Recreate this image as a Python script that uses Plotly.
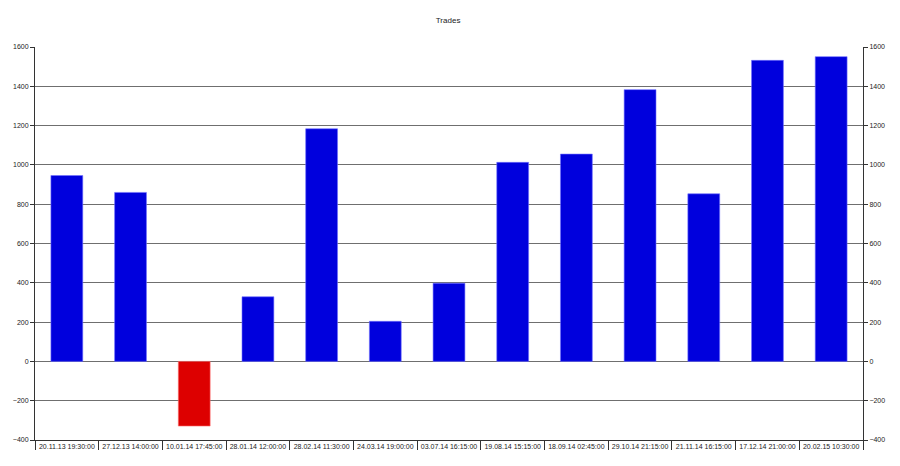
import plotly.graph_objects as go

categories = ["20.11.13 19:30:00", "27.12.13 14:00:00", "10.01.14 17:45:00", "28.01.14 12:00:00",
              "28.02.14 11:30:00", "24.03.14 19:00:00", "03.07.14 16:15:00", "19.08.14 15:15:00",
              "18.09.14 02:45:00", "29.10.14 21:15:00", "21.11.14 16:15:00", "17.12.14 21:00:00",
              "20.02.15 10:30:00"]
values = [946, 860, -329, 329, 1184, 204, 398, 1013, 1055, 1383, 853, 1532, 1551]
y_ticks = [-400, -200, 0, 200, 400, 600, 800, 1000, 1200, 1400, 1600]

colors = ["#0000dd" if v >= 0 else "#dd0000" for v in values]
edge = ["#7070ff" if v >= 0 else "#ff7070" for v in values]

fig = go.Figure()
fig.add_trace(go.Bar(x=categories, y=values, marker=dict(color=colors, line=dict(color=edge, width=0.6)),
                     showlegend=False, hoverinfo="x+y"))
fig.add_trace(go.Scatter(x=[categories[0]], y=[0], yaxis="y2", mode="markers",
                         marker=dict(opacity=0, size=1), showlegend=False, hoverinfo="skip"))

font = dict(family="Liberation Sans, Arial, sans-serif", size=7, color="#222222")
yax = dict(range=[-400, 1600], tickmode="array", tickvals=y_ticks, ticks="outside", ticklen=4,
           tickcolor="#333333", showline=True, linecolor="#333333", linewidth=1, tickfont=font,
           zeroline=False, automargin=False)
fig.update_layout(
    width=900, height=466,
    margin=dict(l=27, r=45, t=39, b=34),
    paper_bgcolor="white", plot_bgcolor="white",
    title=dict(text="Trades", x=0.489, xanchor="center", y=1 - 12 / 466, yanchor="middle",
               font=dict(family="Liberation Sans, Arial, sans-serif", size=8, color="#222222")),
    bargap=0.5,
    xaxis=dict(type="category", range=[-0.5, len(categories) - 0.5], tickson="boundaries",
               ticks="outside", ticklen=9, tickcolor="#333333",
               showline=True, linecolor="#333333", linewidth=1, tickfont=font, showgrid=False,
               tickangle=0, automargin=False),
    yaxis=dict(**yax, showgrid=True, gridcolor="#6f6f6f", gridwidth=1),
    yaxis2=dict(**yax, overlaying="y", side="right", showgrid=False),
)
fig.write_html("out.html")
